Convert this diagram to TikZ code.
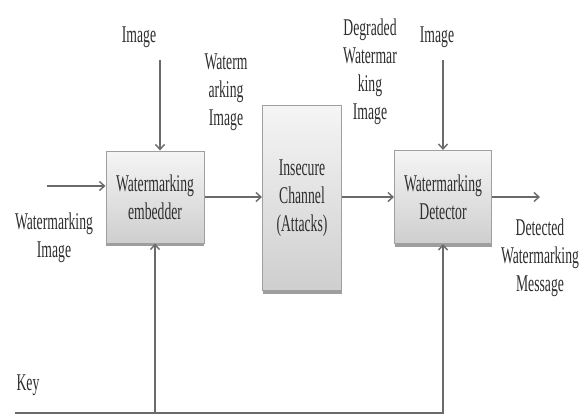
\documentclass[tikz,border=0pt]{standalone}
\usepackage{fontspec}
\setmainfont{Liberation Serif}[FakeStretch=0.57]
\usetikzlibrary{arrows.meta,shadows}
\definecolor{linegray}{HTML}{6A6A6A}
\definecolor{txtgray}{HTML}{2E2E2E}
\begin{document}
\begin{tikzpicture}[x=1pt,y=-1pt,
  every node/.style={text=txtgray,font=\fontsize{24}{28}\selectfont,align=center,inner sep=0pt},
  blockbox/.style={draw=gray!75,line width=1pt,top color=gray!8,bottom color=gray!38,
    drop shadow={shadow xshift=0pt,shadow yshift=-3pt,fill=gray!85,opacity=0.9}},
  conn/.style={draw=linegray,line width=1.4pt},
  arr/.style={conn,-{Straight Barb[length=5pt,width=9pt]}}]
\useasboundingbox (0,0) rectangle (584,418);
% blocks
\node[blockbox,minimum width=98pt,minimum height=92pt] (emb) at (155,197) {Watermarking\\embedder};
\node[blockbox,minimum width=79pt,minimum height=185pt] (chan) at (302,198) {Insecure\\Channel\\(Attacks)};
\node[blockbox,minimum width=97pt,minimum height=93pt] (det) at (443,197) {Watermarking\\Detector};
% labels
\node (img1) at (139,37) {Image};
\node (img2) at (437,37) {Image};
\node (wmi) at (226,92) {Waterm\\arking\\Image};
\node (dwmi) at (370,72) {Degraded\\Watermar\\king\\Image};
\node (inlab) at (54,238) {Watermarking\\Image};
\node (outlab) at (540,258) {Detected\\Watermarking\\Message};
\node (keylab) at (28,385) {Key};
% coordinates
\coordinate (in0) at (47,186);
\coordinate (im1) at (160,60);
\coordinate (im2) at (443,60);
\coordinate (out1) at (540,197);
\coordinate (k0) at (15,413);
\coordinate (k1) at (155,413);
% connectors
\draw[arr] (in0) -- (emb.west |- in0);
\draw[arr] (im1) -- (emb.north -| im1);
\draw[arr] (emb.east) -- (chan.west |- emb.east);
\draw[arr] (chan.east |- det.west) -- (det.west);
\draw[arr] (im2) -- (det.north -| im2);
\draw[arr] (det.east) -- (out1);
\draw[conn] (k0) -- (k1);
\draw[arr] (k1) -- (emb.south);
\draw[arr] (k1) -| (det.south);
\end{tikzpicture}
\end{document}
